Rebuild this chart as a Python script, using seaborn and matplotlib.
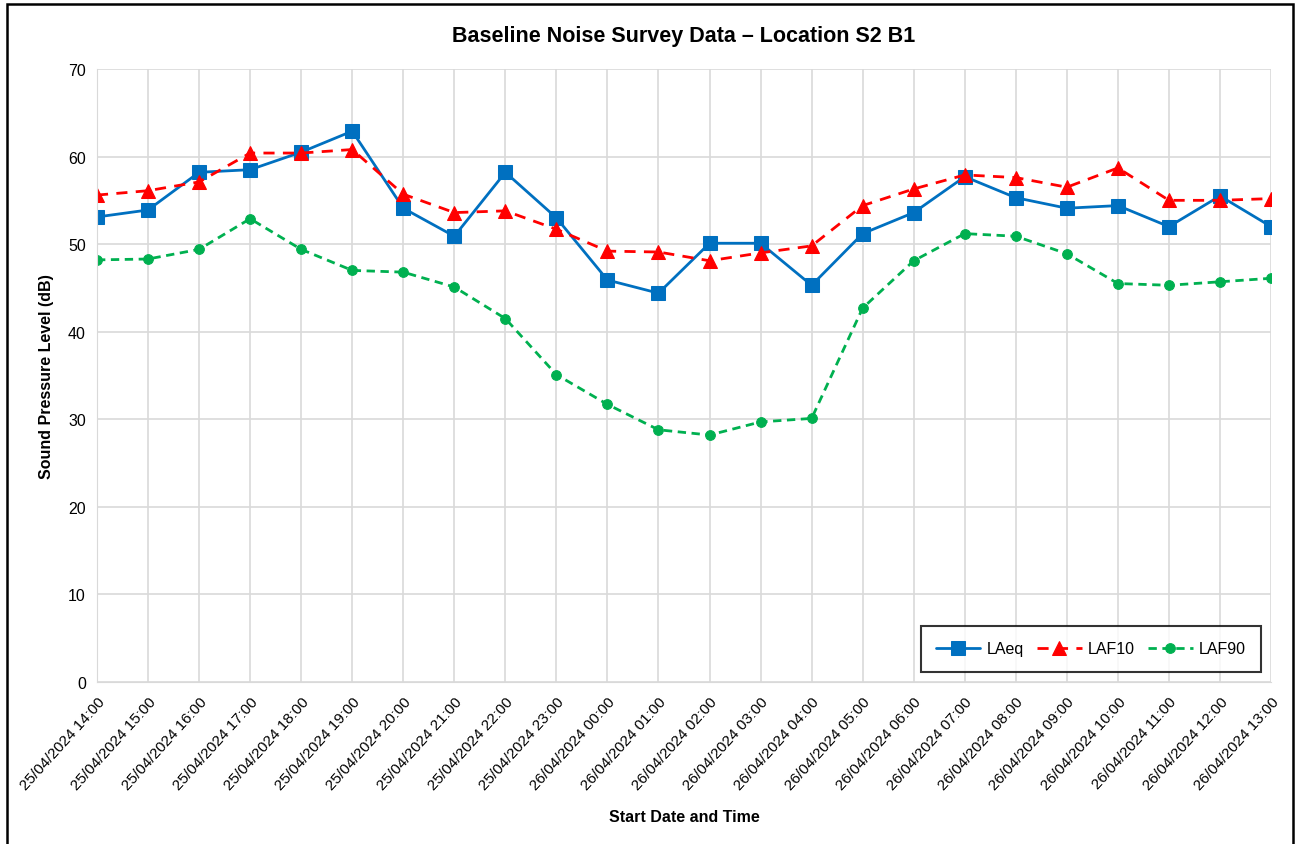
import pandas as pd
import matplotlib.pyplot as plt
import seaborn as sns
from matplotlib.patches import Rectangle

# hourly start times
times = ['25/04/2024 14:00', '25/04/2024 15:00', '25/04/2024 16:00', '25/04/2024 17:00',
         '25/04/2024 18:00', '25/04/2024 19:00', '25/04/2024 20:00', '25/04/2024 21:00',
         '25/04/2024 22:00', '25/04/2024 23:00', '26/04/2024 00:00', '26/04/2024 01:00',
         '26/04/2024 02:00', '26/04/2024 03:00', '26/04/2024 04:00', '26/04/2024 05:00',
         '26/04/2024 06:00', '26/04/2024 07:00', '26/04/2024 08:00', '26/04/2024 09:00',
         '26/04/2024 10:00', '26/04/2024 11:00', '26/04/2024 12:00', '26/04/2024 13:00']

laeq = [53.1, 53.9, 58.2, 58.5, 60.5, 62.9, 54.1, 50.9, 58.2, 53.0, 45.9, 44.4,
        50.1, 50.1, 45.3, 51.2, 53.6, 57.7, 55.3, 54.1, 54.4, 52.0, 55.5, 52.0]
laf10 = [55.6, 56.1, 57.1, 60.4, 60.4, 60.8, 55.7, 53.6, 53.8, 51.7, 49.2, 49.1,
         48.1, 49.0, 49.8, 54.4, 56.3, 57.9, 57.6, 56.5, 58.7, 55.0, 55.0, 55.2]
laf90 = [48.2, 48.3, 49.4, 52.9, 49.4, 47.0, 46.8, 45.1, 41.5, 35.1, 31.7, 28.8,
         28.2, 29.7, 30.1, 42.7, 48.1, 51.2, 50.9, 48.9, 45.5, 45.3, 45.7, 46.1]


def main():
    sns.set_style('white')
    plt.rcParams['font.family'] = ['Liberation Sans', 'DejaVu Sans']
    for k in ['text.color', 'axes.labelcolor', 'xtick.color', 'ytick.color']:
        plt.rcParams[k] = 'black'

    df = pd.DataFrame({'idx': range(len(times)), 'LAeq': laeq, 'LAF10': laf10, 'LAF90': laf90})

    fig = plt.figure(figsize=(12.95, 8.45), dpi=100)
    ax = fig.add_axes([0.0749, 0.1917, 0.9066, 0.7255])

    sns.lineplot(data=df, x='idx', y='LAeq', ax=ax, color='#0070C0', linewidth=2,
                 marker='s', markersize=9.5, markeredgecolor='#0070C0', label='LAeq')
    sns.lineplot(data=df, x='idx', y='LAF10', ax=ax, color='#FF0000', linewidth=2,
                 linestyle=(0, (4, 3)), marker='^', markersize=9.5, markeredgecolor='#FF0000',
                 label='LAF10')
    sns.lineplot(data=df, x='idx', y='LAF90', ax=ax, color='#00B050', linewidth=2,
                 linestyle=(0, (3, 2)), marker='o', markersize=7, markeredgecolor='#00B050',
                 label='LAF90')

    ax.set_xlim(0, len(times) - 1)
    ax.set_ylim(0, 70)
    ax.set_yticks(range(0, 71, 10))
    ax.set_xticks(range(len(times)))
    ax.set_xticklabels(times, rotation=48, ha='right', rotation_mode='anchor', fontsize=11)
    ax.tick_params(axis='y', labelsize=11.5, length=0, pad=8)
    ax.tick_params(axis='x', length=0, pad=9)
    ax.grid(True, color='#D9D9D9', linewidth=1.2)
    for s in ax.spines.values():
        s.set_color('#D9D9D9')
    ax.spines['top'].set_visible(False)
    ax.spines['right'].set_visible(False)

    ax.set_title('Baseline Noise Survey Data – Location S2 B1', fontsize=15.5,
                 fontweight='bold', pad=20)
    ax.set_xlabel('Start Date and Time', fontsize=11.5, fontweight='bold', labelpad=12)
    ax.set_ylabel('Sound Pressure Level (dB)', fontsize=11.5, fontweight='bold', labelpad=10)

    leg = ax.legend(loc='lower right', ncol=3, fontsize=11.5, frameon=True, fancybox=False,
                    edgecolor='black', bbox_to_anchor=(0.9915, 0.017), borderpad=0.95,
                    handlelength=2.8, handletextpad=0.4, columnspacing=0.8, borderaxespad=0)
    leg.get_frame().set_linewidth(1.5)

    # outer chart border
    fig.patches.append(Rectangle((0.0054, -0.01), 0.9931, 1.004, transform=fig.transFigure,
                                 fill=False, edgecolor='black', linewidth=1.8))

    plt.savefig('out.png', dpi=100)


if __name__ == "__main__":
    main()
